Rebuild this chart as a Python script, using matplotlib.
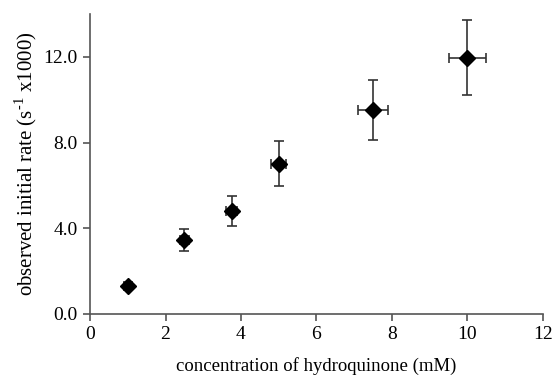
import numpy as np
import matplotlib.pyplot as plt

# hydroquinone concentration (mM) and observed initial rate (s^-1 x1000)
conc = [1.0, 2.5, 3.75, 5.0, 7.5, 10.0]
conc_err = [0.1, 0.12, 0.15, 0.2, 0.4, 0.5]
rate = [1.3, 3.45, 4.8, 7.0, 9.5, 11.95]
rate_err = [0.15, 0.5, 0.7, 1.05, 1.4, 1.75]

x_ticks = [0, 2, 4, 6, 8, 10, 12]
y_ticks = [0.0, 4.0, 8.0, 12.0]

plt.rcParams["font.family"] = ["Liberation Serif", "DejaVu Serif"]
plt.rcParams["mathtext.fontset"] = "custom"
plt.rcParams["mathtext.rm"] = "Liberation Serif"

fig = plt.figure(figsize=(5.54, 3.76), dpi=100)
ax = fig.add_axes([0.1625, 0.165, 0.8175, 0.798])

ax.errorbar(conc, rate, xerr=conc_err, yerr=rate_err, fmt="D", color="black",
            ms=8.5, ecolor="#333333", elinewidth=1.2, capsize=3.5, capthick=1.2)

ax.set_xlim(0, 12)
ax.set_ylim(0, 14)
ax.set_xticks(x_ticks)
ax.set_xticklabels([str(t) for t in x_ticks])
ax.set_yticks(y_ticks)
ax.set_yticklabels([f"{t:.1f}" for t in y_ticks])

for side in ["top", "right"]:
    ax.spines[side].set_visible(False)
for side in ["left", "bottom"]:
    ax.spines[side].set_color("#555555")
    ax.spines[side].set_linewidth(1.2)
ax.tick_params(direction="out", length=5, width=1.2, color="#555555",
               labelsize=14, pad=4)

ax.set_xlabel("concentration of hydroquinone (mM)", fontsize=13.5, labelpad=10)
ax.set_ylabel(r"observed initial rate (s$^{\text{-1}}$ x1000)", fontsize=15, labelpad=3)

fig.savefig("out.png", dpi=100)
